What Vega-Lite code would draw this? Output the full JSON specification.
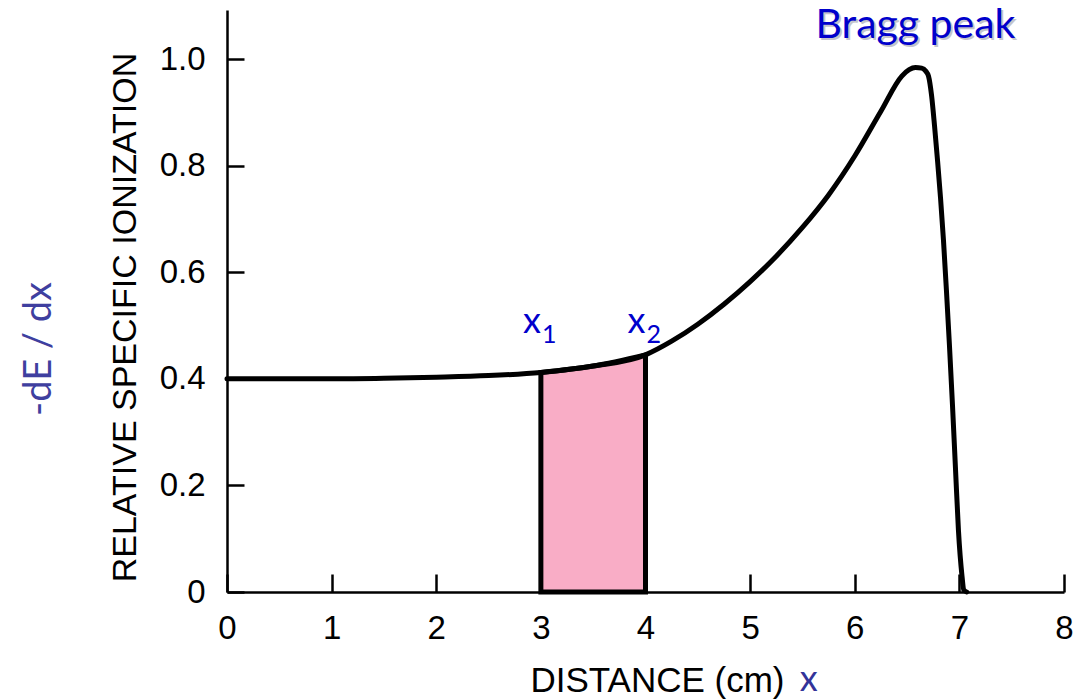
{
  "$schema": "https://vega.github.io/schema/vega-lite/v6.json",
  "width": 837,
  "height": 582,
  "autosize": {"type": "none"},
  "padding": {"left": 227, "top": 10, "right": 10, "bottom": 107},
  "background": "white",
  "config": {
    "view": {"stroke": null},
    "axis": {
      "grid": false,
      "domainColor": "black",
      "domainWidth": 2.5,
      "tickColor": "black",
      "tickWidth": 2.5,
      "labelFont": "Liberation Sans",
      "labelFontSize": 33,
      "labelColor": "black",
      "titleFont": "Liberation Sans",
      "titleFontWeight": "normal",
      "titleColor": "black"
    }
  },
  "datasets": {
    "curve": [
      {"x": 0.0, "y": 0.400},
      {"x": 0.5, "y": 0.400},
      {"x": 1.0, "y": 0.400},
      {"x": 1.5, "y": 0.401},
      {"x": 2.0, "y": 0.403},
      {"x": 2.5, "y": 0.406},
      {"x": 3.0, "y": 0.412},
      {"x": 3.5, "y": 0.424},
      {"x": 4.0, "y": 0.445},
      {"x": 4.25, "y": 0.4706},
      {"x": 4.5, "y": 0.5025},
      {"x": 4.75, "y": 0.540},
      {"x": 5.0, "y": 0.5825},
      {"x": 5.25, "y": 0.630},
      {"x": 5.5, "y": 0.684},
      {"x": 5.75, "y": 0.745},
      {"x": 6.0, "y": 0.818},
      {"x": 6.25, "y": 0.902},
      {"x": 6.45, "y": 0.968},
      {"x": 6.52, "y": 0.980},
      {"x": 6.58, "y": 0.984},
      {"x": 6.64, "y": 0.983},
      {"x": 6.68, "y": 0.977},
      {"x": 6.705, "y": 0.968},
      {"x": 6.734, "y": 0.932},
      {"x": 6.762, "y": 0.876},
      {"x": 6.791, "y": 0.810},
      {"x": 6.82, "y": 0.739},
      {"x": 6.848, "y": 0.660},
      {"x": 6.876, "y": 0.567},
      {"x": 6.905, "y": 0.463},
      {"x": 6.934, "y": 0.351},
      {"x": 6.962, "y": 0.235},
      {"x": 6.991, "y": 0.116},
      {"x": 7.025, "y": 0.030},
      {"x": 7.042, "y": 0.004},
      {"x": 7.07, "y": 0.0}
    ],
    "band": [
      {"x": 3.0, "y": 0.412},
      {"x": 3.5, "y": 0.424},
      {"x": 4.0, "y": 0.445}
    ],
    "notes": [
      {"x": 6.58, "y": 1.039, "text": "Bragg peak", "role": "peak"},
      {"x": 3.0, "y": 0.486, "text": "x", "role": "var"},
      {"x": 3.0, "y": 0.486, "text": "1", "role": "sub"},
      {"x": 4.0, "y": 0.486, "text": "x", "role": "var"},
      {"x": 4.0, "y": 0.486, "text": "2", "role": "sub"},
      {"x": 5.56, "y": -0.186, "text": "x", "role": "xname"},
      {"x": -1.79, "y": 0.456, "text": "-dE / dx", "role": "yname"}
    ]
  },
  "encoding": {
    "x": {
      "field": "x",
      "type": "quantitative",
      "scale": {"domain": [0, 8], "nice": false, "zero": false},
      "axis": {
        "title": "DISTANCE (cm)",
        "titleFontSize": 35,
        "values": [0, 1, 2, 3, 4, 5, 6, 7, 8],
        "format": "d",
        "tickSize": -18,
        "labelPadding": 38,
        "labelFlush": false,
        "labelOverlap": false,
        "titleX": 430,
        "titleY": 99,
        "titleBaseline": "alphabetic",
        "titleAlign": "center"
      }
    },
    "y": {
      "field": "y",
      "type": "quantitative",
      "scale": {"domain": [0, 1.092], "nice": false, "zero": false},
      "axis": {
        "title": "RELATIVE SPECIFIC IONIZATION",
        "titleFontSize": 34,
        "values": [0, 0.2, 0.4, 0.6, 0.8, 1.0],
        "labelExpr": "datum.value === 0 ? '0' : format(datum.value, '.1f')",
        "tickSize": -17,
        "labelPadding": 39,
        "labelFlush": false,
        "labelOverlap": false,
        "titleX": -92,
        "titleY": 307,
        "titleBaseline": "alphabetic",
        "titleAlign": "center",
        "titleAngle": 270
      }
    }
  },
  "layer": [
    {
      "data": {"name": "band"},
      "mark": {"type": "area", "fill": "#F9ADC6", "fillOpacity": 1, "stroke": "black", "strokeWidth": 5, "strokeJoin": "miter", "interpolate": "monotone"}
    },
    {
      "data": {"name": "curve"},
      "mark": {"type": "line", "color": "black", "strokeWidth": 5, "interpolate": "monotone", "strokeCap": "round", "strokeJoin": "round"}
    },
    {
      "data": {"name": "notes"},
      "transform": [{"filter": "datum.role === 'peak'"}],
      "mark": {"type": "text", "font": "Lato", "fontSize": 41, "color": "#C4C4CC", "align": "center", "baseline": "alphabetic", "dx": 2, "dy": 2}
      ,
      "encoding": {"text": {"field": "text"}}
    },
    {
      "data": {"name": "notes"},
      "transform": [{"filter": "datum.role === 'peak'"}],
      "mark": {"type": "text", "font": "Lato", "fontSize": 41, "color": "#0000CC", "align": "center", "baseline": "alphabetic"},
      "encoding": {"text": {"field": "text"}}
    },
    {
      "data": {"name": "notes"},
      "transform": [{"filter": "datum.role === 'var'"}],
      "mark": {"type": "text", "font": "Lato", "fontSize": 36, "color": "#0000CC", "align": "right", "baseline": "alphabetic"},
      "encoding": {"text": {"field": "text"}}
    },
    {
      "data": {"name": "notes"},
      "transform": [{"filter": "datum.role === 'sub'"}],
      "mark": {"type": "text", "font": "Lato", "fontSize": 25, "color": "#0000CC", "align": "left", "baseline": "alphabetic", "dx": 1, "dy": 10},
      "encoding": {"text": {"field": "text"}}
    },
    {
      "data": {"name": "notes"},
      "transform": [{"filter": "datum.role === 'xname'"}],
      "mark": {"type": "text", "font": "Lato", "fontSize": 36, "color": "#333399", "align": "center", "baseline": "alphabetic"},
      "encoding": {"text": {"field": "text"}}
    },
    {
      "data": {"name": "notes"},
      "transform": [{"filter": "datum.role === 'yname'"}],
      "mark": {"type": "text", "font": "Lato", "fontSize": 38, "color": "#3F3F9F", "align": "center", "baseline": "middle", "angle": 270},
      "encoding": {"text": {"field": "text"}}
    }
  ]
}
